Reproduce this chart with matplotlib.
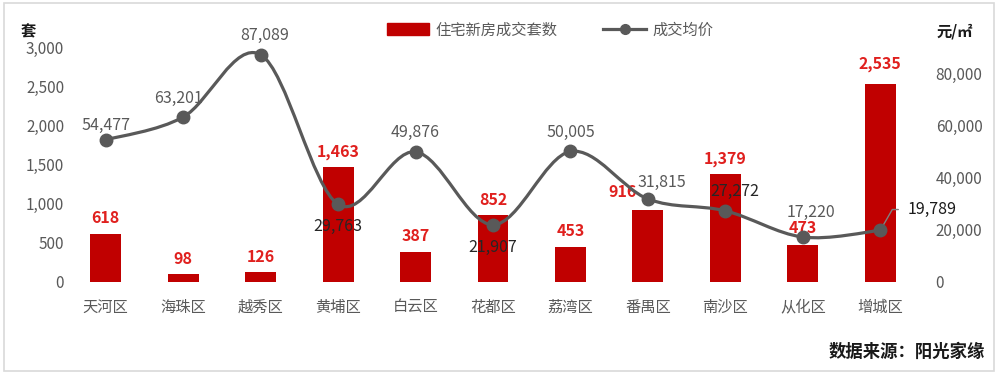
import matplotlib
matplotlib.use("Agg")
import matplotlib.pyplot as plt
from matplotlib.path import Path
from matplotlib.patches import PathPatch, Rectangle
from matplotlib.lines import Line2D
import numpy as np

plt.rcParams['font.family'] = ['Noto Sans CJK SC', 'DejaVu Sans']

districts = ["天河区", "海珠区", "越秀区", "黄埔区", "白云区", "花都区",
             "荔湾区", "番禺区", "南沙区", "从化区", "增城区"]
units = [618, 98, 126, 1463, 387, 852, 453, 916, 1379, 473, 2535]
prices = [54477, 63201, 87089, 29763, 49876, 21907, 50005, 31815, 27272, 17220, 19789]

# label offsets for price labels (points, text centre), and colour
price_off = [(0, 10), (-3.5, 13.5), (3, 14), (0, -16), (0, 14), (0, -16.5),
             (0, 13.5), (10, 12), (7, 14), (6, 18), (0, 0)]
price_dark = [False, False, False, True, False, True, False, False, True, False, True]

bar_red = "#C00000"
lab_red = "#E0201E"
grey = "#595959"

fig = plt.figure(figsize=(10, 3.74), dpi=100)
ax = fig.add_axes([0.067, 0.246, 0.852, 0.628])
ax2 = ax.twinx()

x = np.arange(len(districts))
ax.bar(x, units, width=0.4, color=bar_red, zorder=2)
ax.set_xlim(-0.5, len(districts) - 0.5)
ax.set_ylim(0, 3000)
ax.set_yticks(range(0, 3001, 500))
ax.set_yticklabels([f"{v:,}" for v in range(0, 3001, 500)])
ax.set_xticks(x)
ax.set_xticklabels(districts)
ax2.set_ylim(0, 90000)
ax2.set_yticks(range(0, 80001, 20000))
ax2.set_yticklabels([f"{v:,}" for v in range(0, 80001, 20000)])

for a in (ax, ax2):
    for s in a.spines.values():
        s.set_visible(False)
    a.tick_params(length=0, labelsize=11, labelcolor=grey)
ax.tick_params(axis='x', pad=12)
ax.tick_params(axis='y', pad=2)
ax2.tick_params(axis='y', pad=12)

# bar labels
for i, v in enumerate(units):
    dx, dy = 0, 11
    if i == 7:
        dx, dy = -18, 13
    elif i == 9:
        dy = 12
    elif i == 10:
        dy = 14
    ax.annotate(f"{v:,}", (x[i], v), xytext=(dx, dy), textcoords="offset points",
                ha="center", va="center", color=lab_red, fontsize=11.5,
                fontweight="bold", zorder=5)

# smooth line (Catmull-Rom style bezier, like Excel smoothed line)
pts = np.column_stack([x, prices]).astype(float)
verts = [tuple(pts[0])]
codes = [Path.MOVETO]
n = len(pts)
for i in range(n - 1):
    p0 = pts[i - 1] if i > 0 else pts[i]
    p1 = pts[i]
    p2 = pts[i + 1]
    p3 = pts[i + 2] if i + 2 < n else pts[i + 1]
    c1 = p1 + (p2 - p0) / 6
    c2 = p2 - (p3 - p1) / 6
    verts += [tuple(c1), tuple(c2), tuple(p2)]
    codes += [Path.CURVE4] * 3
ax2.add_patch(PathPatch(Path(verts, codes), fill=False, edgecolor=grey,
                        linewidth=2.3, zorder=3))
ax2.plot(x, prices, linestyle="none", marker="o", markersize=9, color=grey, zorder=4)

for i, v in enumerate(prices):
    col = "#262626" if price_dark[i] else grey
    if i == len(prices) - 1:
        ax2.annotate(f"{v:,}", (x[i], v), xytext=(20, 15), textcoords="offset points",
                     ha="left", va="center", color="#1a1a1a", fontsize=11.5,
                     arrowprops=dict(arrowstyle="-", color="#808080", lw=1,
                                     relpos=(0, 0.5),
                                     connectionstyle="angle,angleA=180,angleB=60,rad=0",
                                     shrinkA=5, shrinkB=0))
        continue
    dx, dy = price_off[i]
    ax2.annotate(f"{v:,}", (x[i], v), xytext=(dx, dy), textcoords="offset points",
                 ha="center", va="center", color=col, fontsize=11.5, zorder=5)

# legend
handles = [Rectangle((0, 0), 1, 1, color=bar_red),
           Line2D([0], [0], color=grey, lw=2.3, marker="o", markersize=7)]
fig.legend(handles, ["住宅新房成交套数", "成交均价"], loc="center",
           bbox_to_anchor=(0.55, 0.92), ncol=2, frameon=False, fontsize=11,
           labelcolor=grey, handlelength=2.8, handleheight=0.8, columnspacing=3,
           handletextpad=0.4)

fig.text(0.028, 0.915, "套", fontsize=11, fontweight="bold", color="#1a1a1a", ha="center", va="center")
fig.text(0.955, 0.915, "元/㎡", fontsize=11, fontweight="bold", color="#1a1a1a", ha="center", va="center")
fig.text(0.985, 0.058, "数据来源：阳光家缘", fontsize=12.5, fontweight="bold", color="#1a1a1a",
         ha="right", va="center")

fig.patches.append(Rectangle((0.004, 0.008), 0.99, 0.984, transform=fig.transFigure,
                             fill=False, edgecolor="#D9D9D9", linewidth=1.2))

fig.savefig("out.png", dpi=100)
